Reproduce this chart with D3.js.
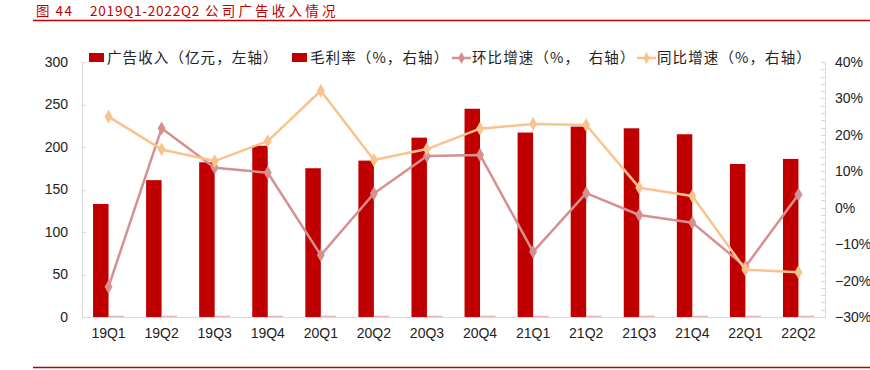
<!DOCTYPE html>
<html><head><meta charset="utf-8">
<script src="https://cdn.jsdelivr.net/npm/d3@7/dist/d3.min.js"></script>
<style>
html,body{margin:0;padding:0;background:#fff;}
svg{display:block;}
</style></head>
<body><svg id="c" width="870" height="370"></svg>
<script>
const categories = ["19Q1","19Q2","19Q3","19Q4","20Q1","20Q2","20Q3","20Q4","21Q1","21Q2","21Q3","21Q4","22Q1","22Q2"];
const adRevenue = [133,161,182,201.5,175,184,211,245,217,224,222,215,180,186];
const grossMargin = [1,1,1,1,1,1,1,1,1,1,1,1,1,1];
const qoqGrowth = [-21.7,21.8,11.0,9.6,-13.0,3.9,14.2,14.5,-12.1,4.0,-2.0,-4.1,-16.2,3.6];
const yoyGrowth = [25.0,16.0,12.8,18.3,32.1,13.1,16.1,21.7,23.0,22.7,5.5,3.2,-17.0,-17.7];
const leftTicks = [0,50,100,150,200,250,300];
const rightTicks = [-30,-20,-10,0,10,20,30,40];
const legendLabels = ["广告收入（亿元，左轴）","毛利率（%，右轴）","环比增速（%，  右轴）","同比增速（%，右轴）"];
const titleParts = ["图 44", "2019Q1-2022Q2", "公司广告收入情况"];

const svg = d3.select("#c");
const L = 82, R = 825, T = 62, B = 317;
const RED = "#c00000", PINK = "#d69090", ORANGE = "#f9c38e";
const cjk = "'Noto Sans CJK SC', sans-serif";
const latin = "'Liberation Sans', Arial, sans-serif";

const x = d3.scaleBand().domain(categories).range([L, R]).padding(0);
const yL = d3.scaleLinear().domain([0,300]).range([B, T]);
const yR = d3.scaleLinear().domain([-30,40]).range([B, T]);
const bw = x.bandwidth();
const barW = 15.5;

// title
const titleX = [36, 90, 205];
const titleSp = [1.5, 0.8, 3.2];
titleParts.forEach((t, i) => {
  svg.append("text").attr("x", titleX[i]).attr("y", 16).attr("fill", RED)
    .attr("font-family", cjk).attr("font-size", 13.5).attr("letter-spacing", titleSp[i])
    .attr("xml:space","preserve").style("white-space","pre").text(t);
});
svg.append("line").attr("x1", 33).attr("x2", 870).attr("y1", 20.5).attr("y2", 20.5)
  .attr("stroke", RED).attr("stroke-width", 1.5);
svg.append("line").attr("x1", 33).attr("x2", 870).attr("y1", 367.5).attr("y2", 367.5)
  .attr("stroke", RED).attr("stroke-width", 1.5);

// left axis
const gL = svg.append("g").attr("transform", `translate(${L},0)`)
  .call(d3.axisLeft(yL).tickValues(leftTicks).tickSize(0).tickPadding(14));
gL.select(".domain").attr("stroke", "#d9d9d9");
gL.selectAll("text").attr("font-family", latin).attr("font-size", 14).attr("fill", "#222");
svg.append("g").selectAll("line").data(leftTicks).join("line")
  .attr("x1", L).attr("x2", L + 4).attr("y1", d => Math.round(yL(d)) + 0.5).attr("y2", d => Math.round(yL(d)) + 0.5)
  .attr("stroke", "#d9d9d9");

// right axis
const gR = svg.append("g").attr("transform", `translate(${R},0)`)
  .call(d3.axisRight(yR).tickValues(rightTicks).tickSize(0).tickPadding(10).tickFormat(d => (d < 0 ? "\u2212" + (-d) : d) + "%"));
gR.select(".domain").attr("stroke", "#d9d9d9");
gR.selectAll("text").attr("font-family", latin).attr("font-size", 14).attr("fill", "#222");
svg.append("g").selectAll("line").data(d3.range(-30, 41, 2)).join("line")
  .attr("x1", R - 4).attr("x2", R).attr("y1", d => Math.round(yR(d)) + 0.5).attr("y2", d => Math.round(yR(d)) + 0.5)
  .attr("stroke", "#d9d9d9");

// x axis
const gX = svg.append("g").attr("transform", `translate(0,${B})`)
  .call(d3.axisBottom(x).tickSize(0).tickPadding(11));
gX.select(".domain").attr("stroke", "#d9d9d9");
gX.selectAll("text").attr("font-family", latin).attr("font-size", 14).attr("fill", "#222");

// bars
svg.append("g").selectAll("rect").data(categories).join("rect")
  .attr("x", (d,i) => x(d) + bw/2 - barW).attr("width", barW)
  .attr("y", (d,i) => yL(adRevenue[i])).attr("height", (d,i) => B - yL(adRevenue[i]))
  .attr("fill", RED);
svg.append("g").selectAll("rect").data(categories).join("rect")
  .attr("x", (d,i) => x(d) + bw/2).attr("width", barW)
  .attr("y", (d,i) => yL(grossMargin[i]) - 0.5).attr("height", (d,i) => B - yL(grossMargin[i]) + 0.5)
  .attr("fill", "#e9b9b9");

// lines
function drawLine(vals, color) {
  const line = d3.line().x((d,i) => x(categories[i]) + bw/2).y(d => yR(d));
  svg.append("path").datum(vals).attr("d", line).attr("fill", "none")
    .attr("stroke", color).attr("stroke-width", 2.5).attr("stroke-linejoin", "round");
  svg.append("g").selectAll("path").data(vals).join("path")
    .attr("d", d3.symbol(d3.symbolDiamond, 55))
    .attr("transform", (d,i) => `translate(${x(categories[i]) + bw/2},${yR(d)})`)
    .attr("fill", color);
}
drawLine(qoqGrowth, PINK);
drawLine(yoyGrowth, ORANGE);

// legend
const lg = svg.append("g");
const ly = 58;
const items = [
  {type:"rect", color: RED, x: 89, tx: 107},
  {type:"rect", color: RED, x: 292, tx: 310},
  {type:"line", color: PINK, x: 452, tx: 472},
  {type:"line", color: ORANGE, x: 637, tx: 657}
];
items.forEach((it, i) => {
  if (it.type === "rect") {
    lg.append("rect").attr("x", it.x).attr("y", ly - 5).attr("width", 15).attr("height", 9).attr("fill", it.color);
  } else {
    lg.append("line").attr("x1", it.x).attr("x2", it.x + 19).attr("y1", ly).attr("y2", ly)
      .attr("stroke", it.color).attr("stroke-width", 2.5);
    lg.append("path").attr("d", d3.symbol(d3.symbolDiamond, 40)).attr("transform", `translate(${it.x + 9.5},${ly})`)
      .attr("fill", it.color);
  }
  lg.append("text").attr("x", it.tx).attr("y", ly + 5).attr("font-family", cjk).attr("font-size", 14.5)
    .attr("letter-spacing", 1.1)
    .attr("fill", "#222").attr("xml:space","preserve").style("white-space","pre").text(legendLabels[i]);
});
</script></body></html>
